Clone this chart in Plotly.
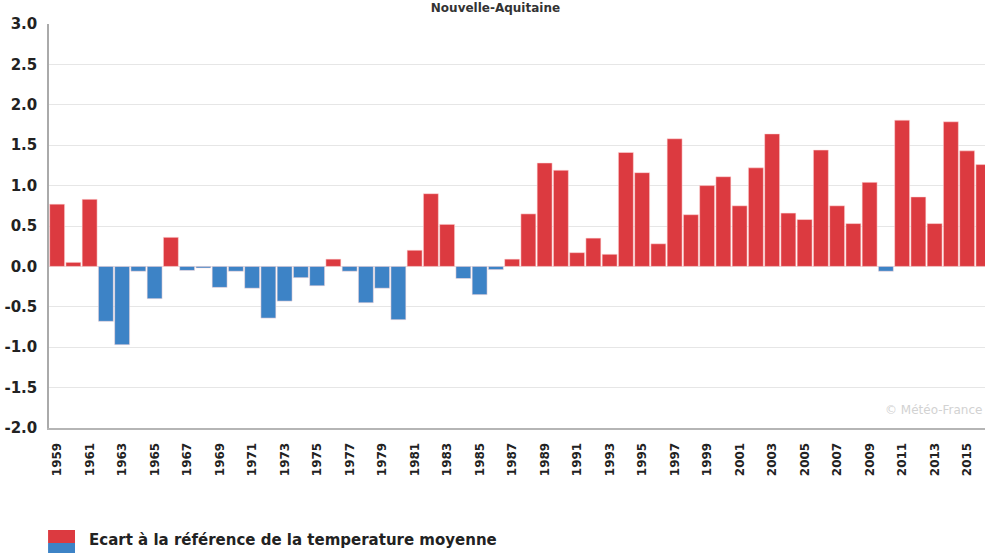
import plotly.graph_objects as go

years = list(range(1959, 2017))
anomaly = [
    0.77, 0.05, 0.83, -0.68, -0.97, -0.06, -0.40, 0.36, -0.05, -0.02,   # 1959-1968
    -0.26, -0.06, -0.27, -0.64, -0.43, -0.14, -0.24, 0.09, -0.06, -0.45,  # 1969-1978
    -0.27, -0.66, 0.20, 0.90, 0.52, -0.15, -0.35, -0.04, 0.09, 0.65,      # 1979-1988
    1.28, 1.19, 0.17, 0.35, 0.15, 1.41, 1.16, 0.28, 1.58, 0.64,           # 1989-1998
    1.00, 1.11, 0.75, 1.22, 1.64, 0.66, 0.58, 1.44, 0.75, 0.53,           # 1999-2008
    1.04, -0.06, 1.81, 0.86, 0.53, 1.79, 1.43, 1.26,                      # 2009-2016
]
x_tick_years = list(range(1959, 2016, 2))
x_tick_labels = [str(y) for y in x_tick_years]
y_tick_vals = [3.0, 2.5, 2.0, 1.5, 1.0, 0.5, 0.0, -0.5, -1.0, -1.5, -2.0]
y_tick_labels = ["3.0", "2.5", "2.0", "1.5", "1.0", "0.5", "0.0", "-0.5", "-1.0", "-1.5", "-2.0"]

title_text = "Nouvelle-Aquitaine"
legend_text = "Ecart à la référence de la temperature moyenne"
watermark = "© Météo-France"

RED = "#dc3a40"
BLUE = "#3d83c6"
colors = [RED if v >= 0 else BLUE for v in anomaly]

FONT = "DejaVu Sans"

fig = go.Figure()
fig.add_trace(go.Bar(
    x=years, y=anomaly,
    marker=dict(color=colors, line=dict(color="rgba(255,220,220,0.9)", width=0.6)),
    showlegend=False,
))

fig.update_layout(
    width=985, height=553,
    margin=dict(l=49, r=0, t=24, b=125, autoexpand=False),
    paper_bgcolor="white", plot_bgcolor="white",
    bargap=0.08,
    font=dict(family=FONT, color="#222"),
    title=dict(text=title_text, x=0.503, xanchor="center", y=0.993, yanchor="top",
               automargin=False,
               font=dict(family=FONT, size=12, weight="bold", color="#333")),
    xaxis=dict(
        range=[1958.5, 2016.1],
        tickmode="array", tickvals=x_tick_years, ticktext=x_tick_labels,
        tickangle=-90, automargin=False,
        tickfont=dict(family=FONT, size=12, weight="bold", color="#222"),
        showgrid=False, zeroline=False,
        showline=True, linecolor="#b5b5b5", linewidth=2,
        ticks="", ticklabelstandoff=8,
    ),
    yaxis=dict(
        range=[-2.0, 3.0],
        tickmode="array", tickvals=y_tick_vals, ticktext=y_tick_labels,
        automargin=False,
        tickfont=dict(family=FONT, size=15, weight="bold", color="#222"),
        showgrid=True, gridcolor="#e6e6e6", gridwidth=1,
        zeroline=False,
        showline=True, linecolor="#aaaaaa", linewidth=1.5,
        ticks="", ticklabelstandoff=7,
    ),
)

# watermark
fig.add_annotation(text=watermark, xref="paper", yref="paper", x=0.999, y=0.045,
                   xanchor="right", yanchor="middle", showarrow=False,
                   font=dict(family=FONT, size=12, color="#d2d2d2"))

# legend: two-colour swatch and label
fig.add_shape(type="rect", xref="paper", yref="paper",
              x0=-0.001, x1=0.0278, y0=-0.2525, y1=-0.2847, fillcolor=RED, line_width=0)
fig.add_shape(type="rect", xref="paper", yref="paper",
              x0=-0.001, x1=0.0278, y0=-0.2847, y1=-0.312, fillcolor=BLUE, line_width=0)
fig.add_annotation(text=legend_text, xref="paper", yref="paper", x=0.041, y=-0.277,
                   xanchor="left", yanchor="middle", showarrow=False,
                   font=dict(family=FONT, size=15, weight="bold", color="#222"))

fig.write_html(
    "out.html",
    config={"displayModeBar": False},
    post_script="document.body.style.margin='0';document.body.style.overflow='hidden';",
)
